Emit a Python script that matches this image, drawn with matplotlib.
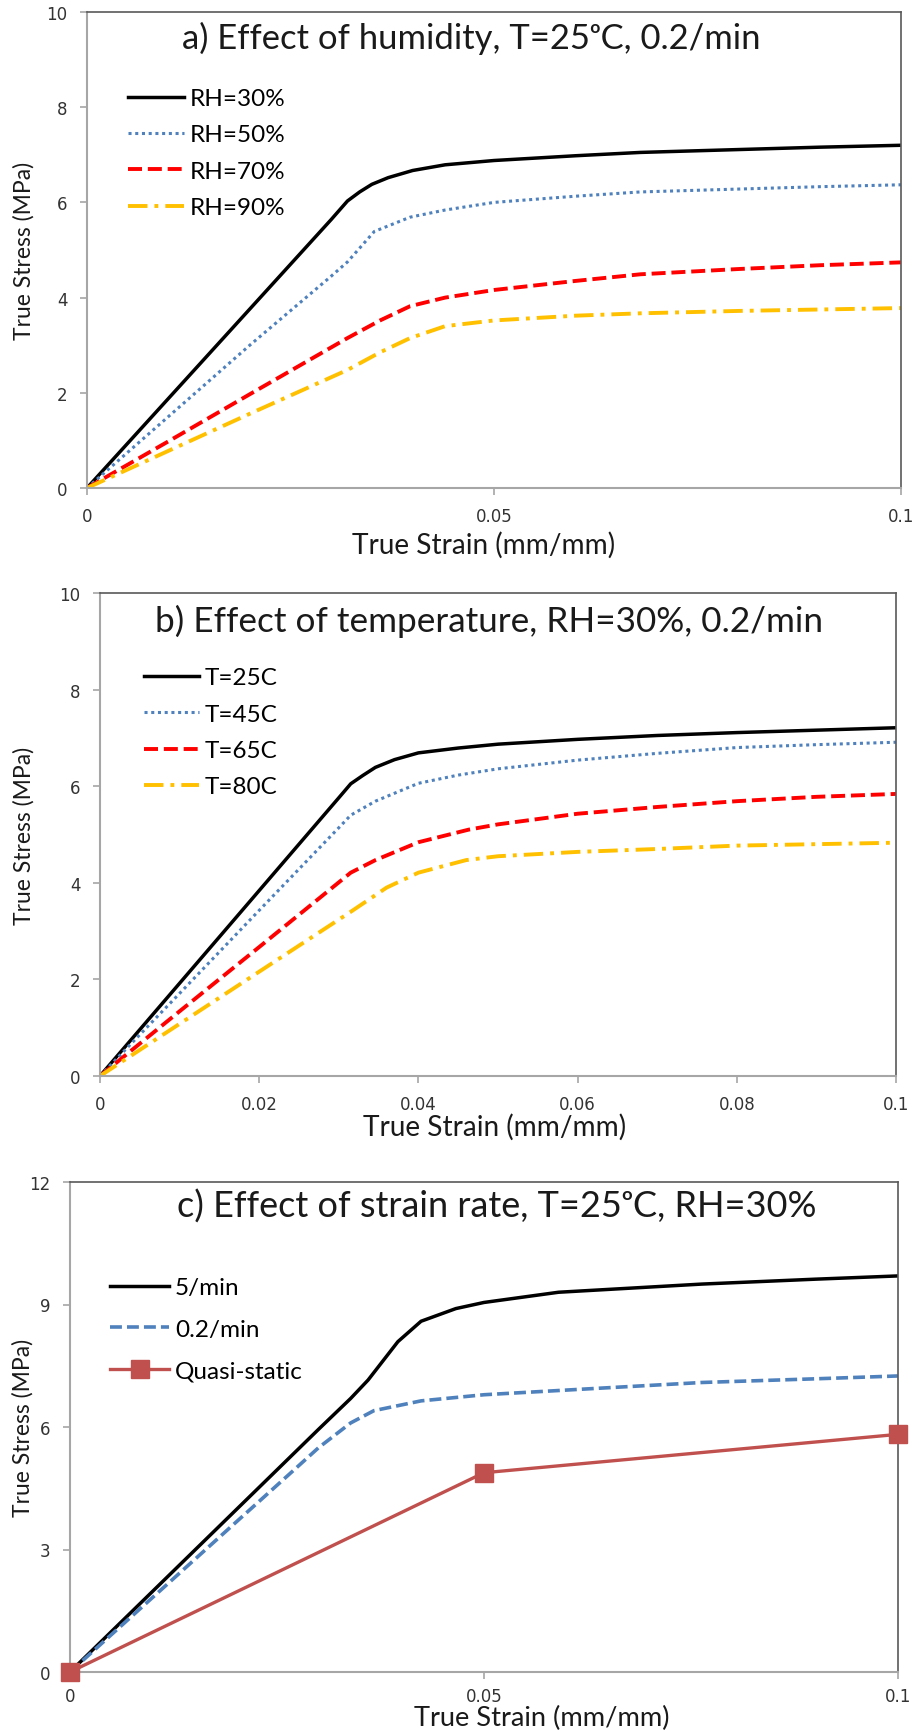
import matplotlib
matplotlib.use("Agg")
import matplotlib.pyplot as plt

# ---------------- data ----------------
# Panel a: effect of humidity
strain_a30 = [0, 0.010, 0.020, 0.030, 0.032, 0.0335, 0.035, 0.037, 0.040, 0.044, 0.050, 0.060, 0.068, 0.080, 0.090, 0.100]
stress_a30 = [0, 1.88, 3.76, 5.64, 6.03, 6.22, 6.38, 6.52, 6.67, 6.79, 6.88, 6.98, 7.05, 7.11, 7.16, 7.20]
strain_a50 = [0, 0.003, 0.010, 0.020, 0.030, 0.032, 0.0353, 0.0397, 0.044, 0.050, 0.060, 0.068, 0.080, 0.090, 0.100]
stress_a50 = [0, 0.45, 1.50, 3.00, 4.45, 4.75, 5.39, 5.69, 5.84, 6.00, 6.13, 6.22, 6.28, 6.33, 6.37]
strain_a70 = [0, 0.010, 0.020, 0.032, 0.036, 0.0397, 0.044, 0.050, 0.060, 0.068, 0.080, 0.090, 0.100]
stress_a70 = [0, 0.98, 1.97, 3.15, 3.52, 3.82, 4.00, 4.16, 4.35, 4.49, 4.60, 4.68, 4.74]
strain_a90 = [0, 0.010, 0.020, 0.032, 0.036, 0.0397, 0.044, 0.050, 0.060, 0.068, 0.080, 0.090, 0.100]
stress_a90 = [0, 0.78, 1.56, 2.48, 2.85, 3.15, 3.40, 3.52, 3.62, 3.67, 3.72, 3.75, 3.78]

# Panel b: effect of temperature
strain_b25 = [0, 0.010, 0.020, 0.030, 0.0315, 0.033, 0.0346, 0.037, 0.040, 0.045, 0.050, 0.060, 0.070, 0.080, 0.090, 0.100]
stress_b25 = [0, 1.92, 3.84, 5.76, 6.05, 6.22, 6.39, 6.55, 6.69, 6.79, 6.87, 6.97, 7.05, 7.11, 7.16, 7.21]
strain_b45 = [0, 0.010, 0.020, 0.030, 0.0315, 0.0346, 0.040, 0.045, 0.050, 0.060, 0.070, 0.080, 0.090, 0.100]
stress_b45 = [0, 1.71, 3.43, 5.14, 5.40, 5.69, 6.06, 6.23, 6.36, 6.54, 6.68, 6.80, 6.86, 6.91]
strain_b65 = [0, 0.010, 0.020, 0.0315, 0.0346, 0.040, 0.0463, 0.050, 0.060, 0.070, 0.080, 0.090, 0.100]
stress_b65 = [0, 1.34, 2.67, 4.21, 4.47, 4.84, 5.10, 5.21, 5.43, 5.57, 5.69, 5.78, 5.84]
strain_b80 = [0, 0.010, 0.020, 0.0315, 0.036, 0.040, 0.046, 0.050, 0.060, 0.070, 0.080, 0.090, 0.100]
stress_b80 = [0, 1.08, 2.16, 3.40, 3.90, 4.21, 4.47, 4.55, 4.64, 4.70, 4.77, 4.80, 4.83]

# Panel c: effect of strain rate
strain_c5 = [0, 0.010, 0.020, 0.030, 0.0339, 0.036, 0.0396, 0.0424, 0.0466, 0.050, 0.059, 0.0763, 0.090, 0.100]
stress_c5 = [0, 1.98, 3.96, 5.94, 6.70, 7.15, 8.09, 8.59, 8.90, 9.05, 9.30, 9.50, 9.62, 9.70]
strain_c02 = [0, 0.010, 0.020, 0.0269, 0.030, 0.0339, 0.0367, 0.0424, 0.050, 0.0622, 0.0763, 0.090, 0.100]
stress_c02 = [0, 1.83, 3.66, 4.92, 5.49, 6.10, 6.40, 6.64, 6.79, 6.93, 7.09, 7.18, 7.25]
strain_cq = [0, 0.05, 0.1]
stress_cq = [0, 4.88, 5.82]

labels_a = ["RH=30%", "RH=50%", "RH=70%", "RH=90%"]
labels_b = ["T=25C", "T=45C", "T=65C", "T=80C"]
labels_c = ["5/min", "0.2/min", "Quasi-static"]
title_a = "a) Effect of humidity, T=25\u1d52C, 0.2/min"
title_b = "b) Effect of temperature, RH=30%, 0.2/min"
title_c = "c) Effect of strain rate, T=25\u1d52C, RH=30%"
xlabel = "True Strain (mm/mm)"
ylabel = "True Stress (MPa)"
xticks_a = [0, 0.05, 0.1]
xticklabels_a = ["0", "0.05", "0.1"]
xticks_b = [0, 0.02, 0.04, 0.06, 0.08, 0.1]
xticklabels_b = ["0", "0.02", "0.04", "0.06", "0.08", "0.1"]
yticks_ab = [0, 2, 4, 6, 8, 10]
yticks_c = [0, 3, 6, 9, 12]

# ---------------- style ----------------
FONT = ["Lato", "DejaVu Sans"]
W, H = 917, 1731
fig = plt.figure(figsize=(W / 100, H / 100), dpi=100)
renderer = fig.canvas.get_renderer()

BLACK = "#000000"
BLUE = "#4F81BD"
RED = "#FF0000"
GOLD = "#FFC000"
QRED = "#C0504D"
AXIS_LIGHT = "#A6A6A6"
FRAME_DARK = "#595959"
TXT = "#1a1a1a"

DOT = (0, (1, 1.2))
DASH = (0, (3.6, 1.5))
DASHDOT = (0, (5, 1.8, 1, 1.8))


def make_ax(box):
    left, top, right, bottom = box
    return fig.add_axes([left / W, 1 - bottom / H, (right - left) / W, (bottom - top) / H])


def style_ax(ax, box, xticks, xtl, yticks, ymax, xlab_xy, ylab_x, xlab_va="center", xlab_w=264, xpad=9):
    left, top, right, bottom = box
    wpx, hpx = right - left, bottom - top
    ax.set_xlim(0, 0.1)
    ax.set_ylim(0, ymax)
    ax.set_xticks(xticks)
    ax.set_xticklabels(xtl)
    ax.set_yticks(yticks)
    ax.set_yticklabels([str(v) for v in yticks])
    for k in ("left", "bottom"):
        ax.spines[k].set_color(AXIS_LIGHT)
        ax.spines[k].set_linewidth(1.5)
    for k in ("top", "right"):
        ax.spines[k].set_color(FRAME_DARK)
        ax.spines[k].set_linewidth(1.2)
    ax.tick_params(axis="both", direction="out", length=5, width=1.2, color=AXIS_LIGHT,
                   labelsize=12, labelcolor="#333333", pad=9)
    ax.tick_params(axis="x", pad=xpad)
    for lab in ax.get_xticklabels() + ax.get_yticklabels():
        lab.set_family("DejaVu Sans")
    ax.set_xlabel(xlabel, fontsize=20, family=FONT, color=TXT)
    ax.set_ylabel(ylabel, fontsize=16.5, family=FONT, color=TXT)
    xc, yc = xlab_xy
    ax.xaxis.set_label_coords((xc - left) / wpx, -(yc - bottom) / hpx)
    ax.xaxis.label.set_va(xlab_va)
    ax.yaxis.set_label_coords((ylab_x - left) / wpx, 0.5)
    ax.yaxis.label.set_va("center")
    w = ax.xaxis.label.get_window_extent(renderer).width
    ax.xaxis.label.set_fontsize(20 * xlab_w / w)


def add_title(text, x_left, y_base, target_w):
    t = fig.text(x_left / W, 1 - y_base / H, text, ha="left", va="baseline",
                 fontsize=24, family=FONT, color=TXT)
    w = t.get_window_extent(renderer).width
    t.set_fontsize(24 * target_w / w)
    return t


def add_legend(ax, handle_x, text_x, centers, fs=17.5):
    """centers: target vertical centers (pixels from top) of the legend rows."""
    n = len(centers)
    pitch_t = (centers[-1] - centers[0]) / (n - 1)
    fs_px = fs * 100 / 72
    gap = 6
    hl = (text_x - handle_x - gap) / fs_px
    htp = gap / fs_px

    def build(ls, y_anchor):
        return ax.legend(loc="upper left", bbox_to_anchor=(handle_x / W, y_anchor),
                         bbox_transform=fig.transFigure, frameon=False,
                         prop={"family": FONT, "size": fs}, borderpad=0, borderaxespad=0,
                         labelspacing=ls, handlelength=hl, handletextpad=htp)

    def centers_meas(leg):
        fig.canvas.draw()
        return [0.5 * (b.y0 + b.y1) for b in (t.get_window_extent(renderer) for t in leg.get_texts())]

    y_anchor = 1 - (centers[0] - 20) / H
    leg = build(0.5, y_anchor)
    cm = centers_meas(leg)
    pitch_m = (cm[0] - cm[-1]) / (n - 1)
    ls = 0.5 + (pitch_t - pitch_m) / fs_px
    leg = build(ls, y_anchor)
    cm = centers_meas(leg)
    dy = (H - centers[0]) - cm[0]
    leg.set_bbox_to_anchor((handle_x / W, y_anchor + dy / H), transform=fig.transFigure)
    return leg


# Panel a
A = (87, 13, 901, 489)
axa = make_ax(A)
axa.plot(strain_a30, stress_a30, color=BLACK, lw=2.5, ls="-", label=labels_a[0])
axa.plot(strain_a50, stress_a50, color=BLUE, lw=2.2, ls=DOT, label=labels_a[1])
axa.plot(strain_a70, stress_a70, color=RED, lw=2.8, ls=DASH, label=labels_a[2])
axa.plot(strain_a90, stress_a90, color=GOLD, lw=2.8, ls=DASHDOT, label=labels_a[3])
style_ax(axa, A, xticks_a, xticklabels_a, yticks_ab, 10, (484, 545), 24)
add_title(title_a, 182, 49, 578)

# Panel b
B = (100, 594, 896, 1077)
axb = make_ax(B)
axb.plot(strain_b25, stress_b25, color=BLACK, lw=2.5, ls="-", label=labels_b[0])
axb.plot(strain_b45, stress_b45, color=BLUE, lw=2.2, ls=DOT, label=labels_b[1])
axb.plot(strain_b65, stress_b65, color=RED, lw=2.8, ls=DASH, label=labels_b[2])
axb.plot(strain_b80, stress_b80, color=GOLD, lw=2.8, ls=DASHDOT, label=labels_b[3])
style_ax(axb, B, xticks_b, xticklabels_b, yticks_ab, 10, (495, 1127), 24)
add_title(title_b, 155, 632, 668)

# Panel c
C = (70, 1183, 898, 1673)
axc = make_ax(C)
axc.plot(strain_c5, stress_c5, color=BLACK, lw=2.5, ls="-", label=labels_c[0])
axc.plot(strain_c02, stress_c02, color=BLUE, lw=2.6, ls=(0, (3.3, 1.4)), label=labels_c[1])
axc.plot(strain_cq, stress_cq, color=QRED, lw=2.4, ls="-", marker="s", markersize=12.5,
         clip_on=False, zorder=5, label=labels_c[2])
style_ax(axc, C, xticks_a, xticklabels_a, yticks_c, 12, (542, 1726), 23,
         xlab_va="baseline", xlab_w=256, xpad=5.5)
add_title(title_c, 177, 1218, 640)

# legends placed after all axes exist (they trigger full draws for measurement)
add_legend(axa, 128, 190, [99.6, 135.8, 172.5, 208.6])
add_legend(axb, 144, 205, [679, 716, 752, 788])
add_legend(axc, 110, 175, [1289, 1330, 1372])

fig.savefig("out.png", dpi=100)
